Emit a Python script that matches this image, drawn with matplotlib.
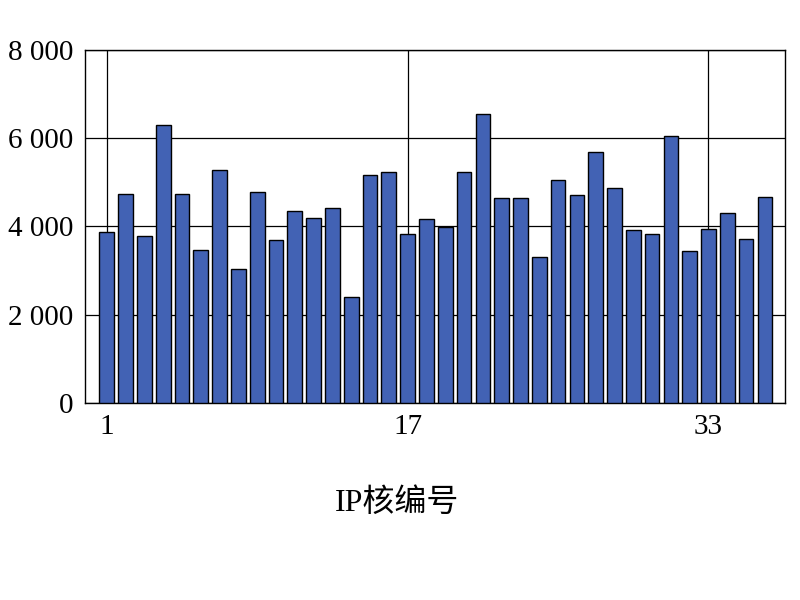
import matplotlib
matplotlib.use("Agg")
import matplotlib.pyplot as plt
from matplotlib.ticker import FuncFormatter

ip_ids = list(range(1, 37))
values = [3880, 4740, 3790, 6300, 4740, 3470, 5280, 3040, 4780, 3700,
          4350, 4190, 4420, 2400, 5170, 5240, 3830, 4170, 3990, 5240,
          6550, 4650, 4650, 3310, 5060, 4720, 5690, 4870, 3920, 3830,
          6050, 3450, 3950, 4310, 3720, 4670]
xticks = [1, 17, 33]
yticks = [0, 2000, 4000, 6000, 8000]

plt.rcParams['font.family'] = ['Liberation Serif', 'Noto Sans CJK SC']
fig = plt.figure(figsize=(8, 6), dpi=100)
ax = fig.add_axes([0.106, 0.328, 0.875, 0.589])
ax.bar(ip_ids, values, width=0.78, color='#4262B4', edgecolor='black', linewidth=1, zorder=3)
ax.set_xlim(-0.17, 37.06)
ax.set_ylim(0, 8000)
ax.set_xticks(xticks)
ax.set_yticks(yticks)
ax.yaxis.set_major_formatter(FuncFormatter(lambda v, p: f"{int(v):,}".replace(",", " ")))
ax.grid(True, color='black', linewidth=0.9, zorder=0)
ax.tick_params(direction='in', labelsize=21, length=0, pad=8)
for s in ax.spines.values():
    s.set_linewidth(1)
ax.set_xlabel('IP核编号', fontsize=23)
ax.xaxis.set_label_coords(0.446, -0.24)
fig.savefig('out.png')
